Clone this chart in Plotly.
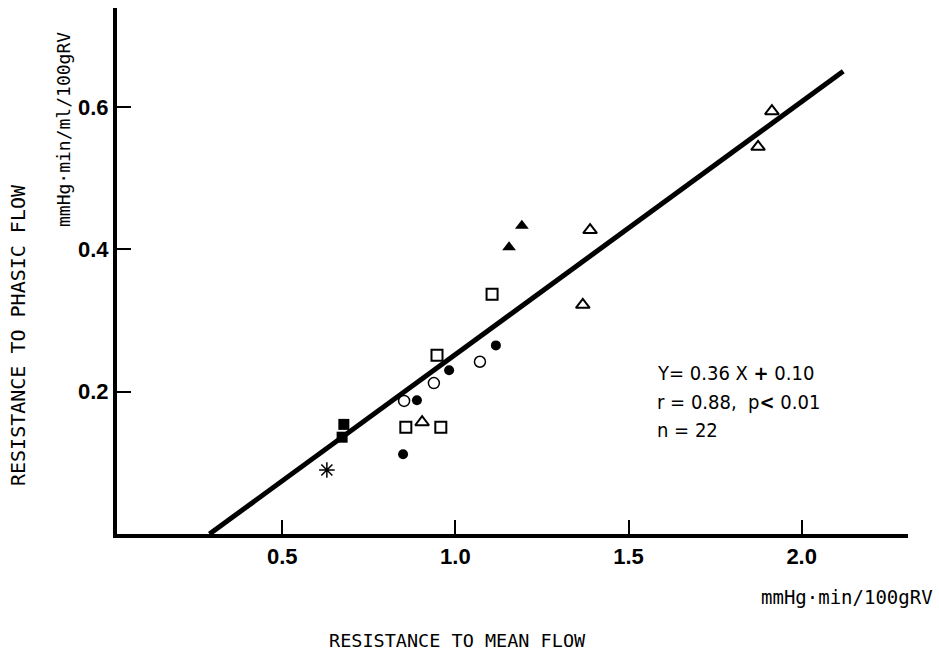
import plotly.graph_objects as go

# ---- data ----
filled_sq_x = [0.678, 0.673]
filled_sq_y = [0.154, 0.136]

open_sq_x = [0.947, 0.857, 0.958, 1.106]
open_sq_y = [0.251, 0.150, 0.150, 0.337]

filled_circ_x = [0.982, 1.117, 0.889, 0.849]
filled_circ_y = [0.230, 0.265, 0.188, 0.112]

open_circ_x = [1.071, 0.938, 0.852]
open_circ_y = [0.242, 0.212, 0.187]

open_tri_x = [0.904, 1.389, 1.368, 1.914, 1.874]
open_tri_y = [0.157, 0.427, 0.322, 0.594, 0.544]

filled_tri_x = [1.192, 1.155]
filled_tri_y = [0.433, 0.403]

star_x = [0.629]
star_y = [0.090]

line_x = [0.29, 2.12]
line_y = [0.0, 0.65]

x_ticks = [0.5, 1.0, 1.5, 2.0]
x_tick_text = ["0.5", "1.0", "1.5", "2.0"]
y_ticks = [0.2, 0.4, 0.6]
y_tick_text = ["0.2", "0.4", "0.6"]

TXT = "DejaVu Sans Mono, Liberation Mono, monospace"
NARROW = "Liberation Sans Narrow, DejaVu Sans Condensed, Arial Narrow, DejaVu Sans Mono, sans-serif"
TICKF = "Liberation Sans, Arial, sans-serif"

fig = go.Figure()

fig.add_trace(go.Scatter(x=line_x, y=line_y, mode="lines",
                         line=dict(color="black", width=5), hoverinfo="skip"))

def pts(x, y, symbol, size, lw=2):
    fig.add_trace(go.Scatter(x=x, y=y, mode="markers",
                             marker=dict(symbol=symbol, size=size, color="black",
                                         line=dict(color="black", width=lw))))

pts(filled_sq_x, filled_sq_y, "square", 11, 0)
pts(open_sq_x, open_sq_y, "square-open", 11, 2)
pts(filled_circ_x, filled_circ_y, "circle", 10, 0)
pts(open_circ_x, open_circ_y, "circle-open", 11, 1.5)
pts(open_tri_x, open_tri_y, "triangle-up-open", 12, 2)
pts(filled_tri_x, filled_tri_y, "triangle-up", 12, 0)
pts(star_x, star_y, "asterisk-open", 13, 1.5)

L, R, T, B = 117, 31, 8, 121
W, H = 939, 655
PW, PH = W - L - R, H - T - B

def px(xp):
    return (xp - L) / PW

def py(yp):
    return (H - B - yp) / PH

annotations = [
    dict(text="Y= 0.36 X <b>+</b> 0.10", x=px(655), y=py(373), xanchor="left"),
    dict(text="r = 0.88,  p<b>&lt;</b> 0.01", x=px(655), y=py(402), xanchor="left"),
    dict(text="n = 22", x=px(655), y=py(430), xanchor="left"),
]
anns = []
for a in annotations:
    a.update(xref="paper", yref="paper", yanchor="middle", showarrow=False,
             font=dict(family=NARROW, size=20, color="black"))
    anns.append(a)

anns += [
    dict(text="RESISTANCE TO PHASIC FLOW", x=px(18), y=py(335), xref="paper", yref="paper",
         textangle=-90, showarrow=False, xanchor="center", yanchor="middle",
         font=dict(family=TXT, size=20, color="black")),
    dict(text="mmHg·min/ml/100gRV", x=px(63), y=py(130), xref="paper", yref="paper",
         textangle=-90, showarrow=False, xanchor="center", yanchor="middle",
         font=dict(family=TXT, size=18, color="black")),
    dict(text="RESISTANCE TO MEAN FLOW", x=px(457), y=py(640), xref="paper", yref="paper",
         showarrow=False, xanchor="center", yanchor="middle",
         font=dict(family=TXT, size=18.5, color="black")),
    dict(text="mmHg·min/100gRV", x=px(847), y=py(597), xref="paper", yref="paper",
         showarrow=False, xanchor="center", yanchor="middle",
         font=dict(family=TXT, size=19, color="black")),
]

fig.update_layout(
    width=W, height=H,
    margin=dict(l=L, r=R, t=T, b=B),
    paper_bgcolor="white", plot_bgcolor="white",
    showlegend=False,
    annotations=anns,
    xaxis=dict(range=[0.023, 2.307], showgrid=False, zeroline=False,
               showline=True, linecolor="black", linewidth=4,
               tickmode="array", tickvals=x_ticks, ticktext=x_tick_text,
               ticks="inside", ticklen=14, tickwidth=2, tickcolor="black",
               tickfont=dict(family=TICKF, size=22, color="black", weight="bold")),
    yaxis=dict(range=[0, 0.739], showgrid=False, zeroline=False,
               showline=True, linecolor="black", linewidth=4,
               tickmode="array", tickvals=y_ticks, ticktext=y_tick_text,
               ticks="inside", ticklen=14, tickwidth=2, tickcolor="black",
               tickfont=dict(family=TICKF, size=22, color="black", weight="bold")),
)

fig.write_html("out.html")
